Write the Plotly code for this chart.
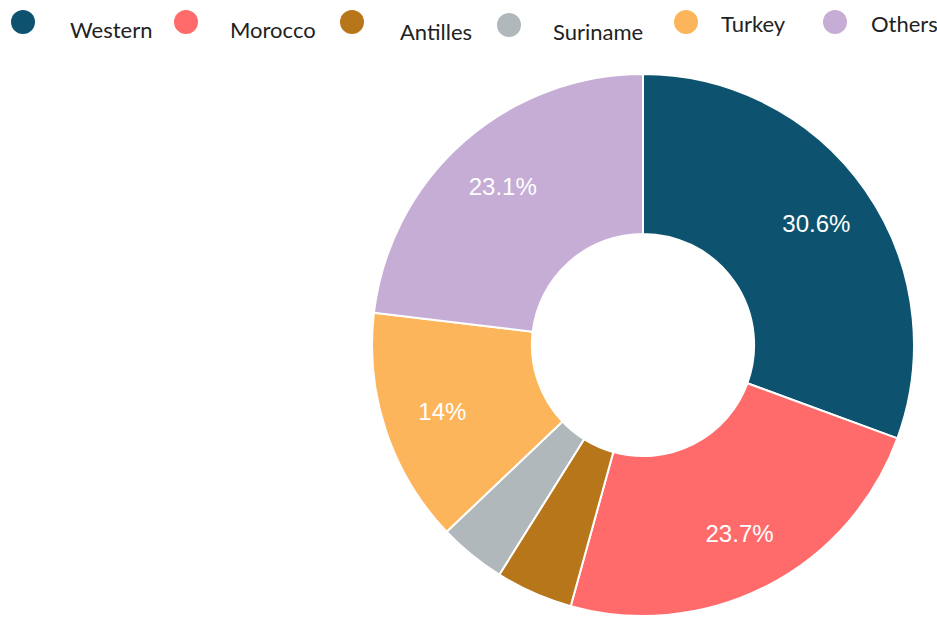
import plotly.graph_objects as go

# data
labels = ["Western", "Morocco", "Antilles", "Suriname", "Turkey", "Others"]
shares = [30.6, 23.7, 4.6, 4.0, 14.0, 23.1]
colors = ["#0d5370", "#ff6b6b", "#b7761a", "#b1b8bb", "#fdb55c", "#c6add6"]
show_label = [True, True, False, False, True, True]

W, H = 937, 624
dom = dict(x=[372 / W, 914 / W], y=[1 - 616 / H, 1 - 74 / H])

fig = go.Figure()

# donut
fig.add_trace(go.Pie(
    labels=labels, values=shares, sort=False, direction="clockwise", rotation=0,
    hole=0.41,
    marker=dict(colors=colors, line=dict(color="white", width=2)),
    textinfo="none",
    hoverinfo="label+percent",
    showlegend=False,
    domain=dom,
))

# same slices again, invisible, only to carry the percent labels a bit further out
fig.add_trace(go.Pie(
    labels=labels, values=shares, sort=False, direction="clockwise", rotation=0,
    hole=0.56,
    marker=dict(colors=["rgba(0,0,0,0)"] * len(labels), line=dict(width=0)),
    texttemplate=["%{percent}" if s else "" for s in show_label],
    textposition="inside", insidetextorientation="horizontal",
    textfont=dict(family="Liberation Sans, Arial", size=24, color="white"),
    hoverinfo="skip",
    showlegend=False,
    domain=dom,
))

# legend drawn by hand (round dots, slightly uneven like the original)
dot_x = [23, 186, 352, 509, 686, 835]
dot_y = [22, 22, 22, 25, 22, 22]
txt_x = [68, 228, 398, 551, 719, 869]
txt_y = [29, 29, 31, 31, 24, 24]
r = 12
shapes = []
annotations = []
for lab, col, cx, cy, tx, ty in zip(labels, colors, dot_x, dot_y, txt_x, txt_y):
    shapes.append(dict(
        type="circle", xref="paper", yref="paper",
        x0=(cx - r) / W, x1=(cx + r) / W, y0=1 - (cy + r) / H, y1=1 - (cy - r) / H,
        fillcolor=col, line=dict(width=0),
    ))
    annotations.append(dict(
        text=lab, xref="paper", yref="paper", x=tx / W, y=1 - ty / H,
        xanchor="left", yanchor="middle", showarrow=False,
        font=dict(family="Lato", size=22, color="#222222"),
    ))

fig.update_layout(
    width=W, height=H,
    margin=dict(l=0, r=0, t=0, b=0),
    paper_bgcolor="white", plot_bgcolor="white",
    shapes=shapes, annotations=annotations,
)

# drop the default 8px body margin so the figure sits at the page corner
fig.write_html("out.html", config={"displayModeBar": False},
               post_script="document.body.style.margin='0';")
